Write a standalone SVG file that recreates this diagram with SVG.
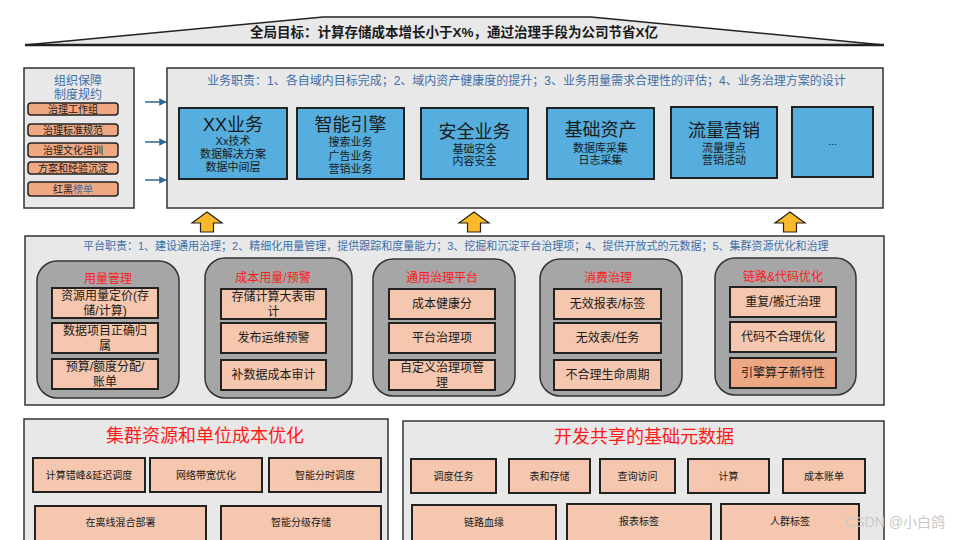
<svg xmlns="http://www.w3.org/2000/svg" width="960" height="540" viewBox="0 0 960 540">
<defs>
<style>
text{font-family:"Liberation Sans","Noto Sans CJK SC",sans-serif;text-anchor:middle;dominant-baseline:central;fill:#1a1a1a}
.panel{fill:#e8e8e8;stroke:#333;stroke-width:1.5}
.lbl{font-size:12px;fill:#3d6fa8;text-anchor:start}
.org{fill:#f0a882;stroke:#222;stroke-width:1.5}
.orgt{font-size:10px}
.biz{fill:#55aede;stroke:#222;stroke-width:2}
.bizt{font-size:18px}
.bizs{font-size:11px}
.grp{fill:#a6a6a6;stroke:#333;stroke-width:1.5}
.grpt{font-size:12px;fill:#ff1a1a}
.item{fill:#f4c7ae;stroke:#222;stroke-width:2}
.item2{fill:#eba882;stroke:#222;stroke-width:2}
.it{font-size:12px}
.bt{font-size:10px}
.big{font-size:18px;fill:#ff1a1a}
.conn{stroke:#2e6a96;stroke-width:1.5;fill:none}
.up{fill:#fbb829;stroke:#222;stroke-width:1.2}
</style>
<marker id="ah" viewBox="0 0 10 10" refX="9" refY="5" markerWidth="5" markerHeight="5" orient="auto"><path d="M0,0L10,5L0,10z" fill="#2e6a96"/></marker>
<path id="yarrow" d="M0,-10L15,1L6.5,1L6.5,10L-6.5,10L-6.5,1L-15,1z"/>
</defs>
<rect width="960" height="540" fill="#fff"/>

<g id="goal">
<polygon points="25,45 323,17 591,17 884,45" fill="#e8e8e8" stroke="#222" stroke-width="1.5"/>
<line x1="25" y1="45" x2="884" y2="45" stroke="#222" stroke-width="2.5"/>
<text x="454" y="32" style="font-size:13.5px;font-weight:bold">全局目标：计算存储成本增长小于X%，通过治理手段为公司节省X亿</text>
</g>

<g id="org">
<rect class="panel" x="24" y="68" width="110" height="140"/>
<text x="78" y="81" style="font-size:12px;fill:#3d6fa8">组织保障</text>
<text x="78" y="95" style="font-size:12px;fill:#3d6fa8">制度规约</text>
<rect class="org" x="28" y="103" width="90" height="12" rx="3"/><text class="orgt" x="73" y="109">治理工作组</text>
<rect class="org" x="28" y="124" width="90" height="12" rx="3"/><text class="orgt" x="73" y="130">治理标准规范</text>
<rect class="org" x="28" y="143" width="90" height="14" rx="3"/><text class="orgt" x="73" y="150">治理文化培训</text>
<rect class="org" x="28" y="162" width="90" height="12" rx="3"/><text class="orgt" x="73" y="168">方案和经验沉淀</text>
<rect class="org" x="28" y="182" width="90" height="14" rx="3"/><text class="orgt" x="73" y="189">红黑<tspan style="fill:#3d6fa8">榜单</tspan></text>
</g>

<g id="connectors">
<line class="conn" x1="145" y1="102" x2="166" y2="102" marker-end="url(#ah)"/>
<line class="conn" x1="145" y1="142" x2="166" y2="142" marker-end="url(#ah)"/>
<line class="conn" x1="145" y1="180" x2="166" y2="180" marker-end="url(#ah)"/>
<use href="#yarrow" class="up" x="207" y="222"/>
<use href="#yarrow" class="up" x="474" y="222"/>
<use href="#yarrow" class="up" x="790" y="222"/>
</g>

<g id="business">
<rect class="panel" x="167" y="68" width="716" height="140"/>
<text class="lbl" x="207" y="81">业务职责：1、各自域内目标完成；2、域内资产健康度的提升；3、业务用量需求合理性的评估；4、业务治理方案的设计</text>
</g>
<g id="biz-xx">
<rect class="biz" x="179" y="108" width="108" height="71"/>
<text class="bizt" x="233" y="125">XX业务</text>
<text class="bizs" x="233" y="141">Xx技术</text>
<text class="bizs" x="233" y="154">数据解决方案</text>
<text class="bizs" x="233" y="167">数据中间层</text>
</g>
<g id="biz-engine">
<rect class="biz" x="297" y="108" width="107" height="71"/>
<text class="bizt" x="350.5" y="125">智能引擎</text>
<text class="bizs" x="350.5" y="142">搜索业务</text>
<text class="bizs" x="350.5" y="156">广告业务</text>
<text class="bizs" x="350.5" y="169">营销业务</text>
</g>
<g id="biz-security">
<rect class="biz" x="421" y="108" width="107" height="71"/>
<text class="bizt" x="474.5" y="132">安全业务</text>
<text class="bizs" x="474.5" y="149">基础安全</text>
<text class="bizs" x="474.5" y="161">内容安全</text>
</g>
<g id="biz-asset">
<rect class="biz" x="547" y="108" width="107" height="71"/>
<text class="bizt" x="600.5" y="130">基础资产</text>
<text class="bizs" x="600.5" y="148">数据库采集</text>
<text class="bizs" x="600.5" y="160">日志采集</text>
</g>
<g id="biz-traffic">
<rect class="biz" x="671" y="107" width="106" height="71"/>
<text class="bizt" x="724" y="131">流量营销</text>
<text class="bizs" x="724" y="148">流量埋点</text>
<text class="bizs" x="724" y="160">营销活动</text>
</g>
<g id="biz-more">
<rect class="biz" x="792" y="107" width="81" height="70"/>
<text class="bizs" x="832.5" y="141">...</text>
</g>

<g id="platform">
<rect class="panel" x="25" y="236" width="859" height="169"/>
<text class="lbl" x="83" y="246" style="font-size:11px">平台职责：1、建设通用治理；2、精细化用量管理，提供跟踪和度量能力；3、挖掘和沉淀平台治理项；4、提供开放式的元数据；5、集群资源优化和治理</text>
</g>
<g id="usage">
<rect class="grp" x="37" y="261" width="142" height="137" rx="20"/>
<text class="grpt" x="108" y="279">用量管理</text>
<rect class="item" x="52" y="288" width="106" height="30"/>
<text class="it" x="105" y="296">资源用量定价(存</text><text class="it" x="105" y="311">储/计算)</text>
<rect class="item" x="52" y="323" width="106" height="30"/>
<text class="it" x="105" y="331">数据项目正确归</text><text class="it" x="105" y="346">属</text>
<rect class="item" x="52" y="359" width="106" height="30"/>
<text class="it" x="105" y="367">预算/额度分配/</text><text class="it" x="105" y="382">账单</text>
</g>
<g id="cost-alert">
<rect class="grp" x="205" y="258" width="147" height="140" rx="20"/>
<text class="grpt" x="273" y="278">成本用量/预警</text>
<rect class="item" x="221" y="289" width="105" height="30"/>
<text class="it" x="273.5" y="297">存储计算大表审</text><text class="it" x="273.5" y="312">计</text>
<rect class="item" x="221" y="323" width="105" height="30"/>
<text class="it" x="273.5" y="338">发布运维预警</text>
<rect class="item" x="221" y="360" width="105" height="30"/>
<text class="it" x="273.5" y="375">补数据成本审计</text>
</g>
<g id="common-platform">
<rect class="grp" x="373" y="259" width="142" height="137" rx="20"/>
<text class="grpt" x="442" y="278">通用治理平台</text>
<rect class="item" x="389" y="289" width="106" height="30"/>
<text class="it" x="442" y="304">成本健康分</text>
<rect class="item" x="389" y="323" width="106" height="30"/>
<text class="it" x="442" y="338">平台治理项</text>
<rect class="item" x="389" y="360" width="106" height="30"/>
<text class="it" x="442" y="368">自定义治理项管</text><text class="it" x="442" y="383">理</text>
</g>
<g id="consumption">
<rect class="grp" x="540" y="259" width="142" height="137" rx="20"/>
<text class="grpt" x="608" y="278">消费治理</text>
<rect class="item" x="554" y="289" width="107" height="30"/>
<text class="it" x="607.5" y="304">无效报表/标签</text>
<rect class="item" x="554" y="323" width="107" height="30"/>
<text class="it" x="607.5" y="338">无效表/任务</text>
<rect class="item" x="554" y="360" width="107" height="30"/>
<text class="it" x="607.5" y="375">不合理生命周期</text>
</g>
<g id="lineage-code">
<rect class="grp" x="715" y="258" width="141" height="137" rx="20"/>
<text class="grpt" x="783" y="277">链路&amp;代码优化</text>
<rect class="item" x="730" y="287" width="106" height="30"/>
<text class="it" x="783" y="302">重复/搬迁治理</text>
<rect class="item" x="730" y="322" width="106" height="30"/>
<text class="it" x="783" y="337">代码不合理优化</text>
<rect class="item2" x="730" y="358" width="106" height="30"/>
<text class="it" x="783" y="373">引擎算子新特性</text>
</g>

<g id="cluster">
<rect class="panel" x="24" y="419" width="364" height="130"/>
<text class="big" x="205" y="436">集群资源和单位成本优化</text>
<rect class="item" x="33" y="458" width="112" height="34"/><text class="bt" x="89" y="475">计算错峰&amp;延迟调度</text>
<rect class="item" x="150" y="458" width="112" height="34"/><text class="bt" x="206" y="475">网络带宽优化</text>
<rect class="item" x="269" y="458" width="112" height="34"/><text class="bt" x="325" y="475">智能分时调度</text>
<rect class="item" x="35" y="506" width="171" height="40"/><text class="bt" x="120.5" y="522">在离线混合部署</text>
<rect class="item" x="221" y="506" width="160" height="40"/><text class="bt" x="301" y="522">智能分级存储</text>
</g>

<g id="metadata">
<rect class="panel" x="403" y="421" width="481" height="130"/>
<text class="big" x="644" y="437">开发共享的基础元数据</text>
<rect class="item" x="411" y="459" width="85" height="34"/><text class="bt" x="453.5" y="476">调度任务</text>
<rect class="item" x="509" y="459" width="81" height="34"/><text class="bt" x="549.5" y="476">表和存储</text>
<rect class="item" x="600" y="459" width="75" height="34"/><text class="bt" x="637.5" y="476">查询访问</text>
<rect class="item" x="688" y="459" width="81" height="34"/><text class="bt" x="728.5" y="476">计算</text>
<rect class="item" x="783" y="459" width="82" height="34"/><text class="bt" x="824" y="476">成本账单</text>
<rect class="item" x="412" y="505" width="144" height="40"/><text class="bt" x="484" y="522">链路血缘</text>
<rect class="item" x="567" y="504" width="144" height="40"/><text class="bt" x="639" y="521">报表标签</text>
<rect class="item" x="721" y="504" width="138" height="40"/><text class="bt" x="790" y="521">人群标签</text>
</g>

<text x="895" y="522" style="font-size:14px;fill:#c8c8c8">CSDN @小白鸽</text>
</svg>
